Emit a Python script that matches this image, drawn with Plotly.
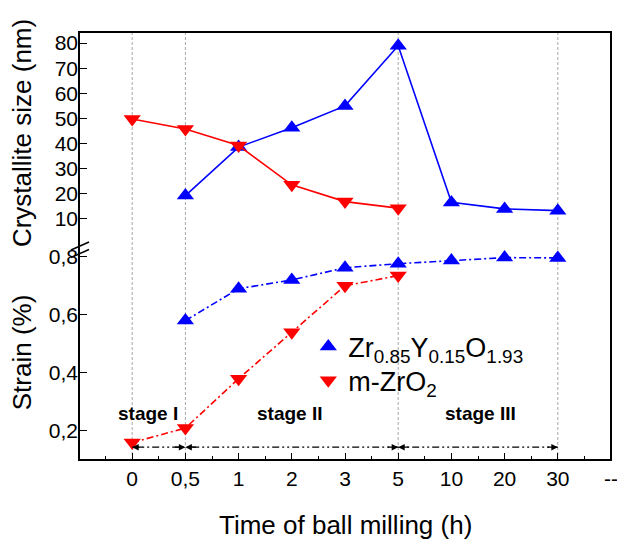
import plotly.graph_objects as go

# ---- data ----
time_labels = ["0", "0,5", "1", "2", "3", "5", "10", "20", "30", "--"]

ysz_times = ["0,5", "1", "2", "3", "5", "10", "20", "30"]
ysz_size = [19.3, 38.6, 46.3, 55.0, 78.9, 16.6, 14.0, 13.3]
ysz_strain = [0.58, 0.69, 0.72, 0.762, 0.776, 0.787, 0.797, 0.796]

mz_times = ["0", "0,5", "1", "2", "3", "5"]
mz_size = [49.8, 45.8, 39.2, 23.6, 16.9, 14.3]
mz_strain = [0.16, 0.21, 0.38, 0.54, 0.70, 0.735]

stage_bounds = ["0", "0,5", "5", "30"]
stage_names = ["stage I", "stage II", "stage III"]
stage_label_pos = [0.3, 2.95, 6.55]   # x (category index units) of stage labels
stage_line_y = 0.144
stage_label_y = 0.26

size_ticks = [10, 20, 30, 40, 50, 60, 70, 80]
strain_ticks = [0.2, 0.4, 0.6, 0.8]
strain_ticktext = ["0,2", "0,4", "0,6", "0,8"]

# ---- helpers ----
def idx(labels):
    return [time_labels.index(t) for t in labels]

BLUE = "#0000FF"
RED = "#FF0000"
FONT = "Arial, Liberation Sans, sans-serif"

fig = go.Figure()

# top panel: crystallite size
fig.add_trace(go.Scatter(x=idx(ysz_times), y=ysz_size, xaxis="x", yaxis="y2",
                         mode="lines+markers", showlegend=False,
                         line=dict(color=BLUE, width=1.6),
                         marker=dict(symbol="triangle-up", size=15, color=BLUE)))
fig.add_trace(go.Scatter(x=idx(mz_times), y=mz_size, xaxis="x", yaxis="y2",
                         mode="lines+markers", showlegend=False,
                         line=dict(color=RED, width=1.6),
                         marker=dict(symbol="triangle-down", size=15, color=RED)))
# bottom panel: strain
fig.add_trace(go.Scatter(x=idx(ysz_times), y=ysz_strain, xaxis="x", yaxis="y",
                         mode="lines+markers", showlegend=False,
                         line=dict(color=BLUE, width=1.6, dash="7px,3px,2px,3px"),
                         marker=dict(symbol="triangle-up", size=15, color=BLUE)))
fig.add_trace(go.Scatter(x=idx(mz_times), y=mz_strain, xaxis="x", yaxis="y",
                         mode="lines+markers", showlegend=False,
                         line=dict(color=RED, width=1.6, dash="7px,3px,2px,3px"),
                         marker=dict(symbol="triangle-down", size=15, color=RED)))

# stage line
sb = idx(stage_bounds)
fig.add_trace(go.Scatter(x=[sb[0], sb[-1]], y=[stage_line_y, stage_line_y],
                         xaxis="x", yaxis="y", mode="lines", showlegend=False,
                         line=dict(color="black", width=1.3,
                                   dash="7px,3px,2px,3px,2px,3px")))

# legend entries (one legend box each, for exact placement)
fig.add_trace(go.Scatter(x=[None], y=[None], mode="markers", xaxis="x", yaxis="y",
                         name="Zr<sub>0.85</sub>Y<sub>0.15</sub>O<sub>1.93</sub>",
                         legend="legend",
                         marker=dict(symbol="triangle-up", size=15, color=BLUE)))
fig.add_trace(go.Scatter(x=[None], y=[None], mode="markers", xaxis="x", yaxis="y",
                         name="m-ZrO<sub>2</sub>", legend="legend2",
                         marker=dict(symbol="triangle-down", size=15, color=RED)))

shapes = []
# vertical stage dashed lines
for b in sb:
    shapes.append(dict(type="line", xref="x", yref="paper", x0=b, x1=b, y0=0, y1=1,
                       line=dict(color="#A8A8A8", width=1, dash="3px,2px"), layer="below"))
# frame
shapes.append(dict(type="rect", xref="paper", yref="paper", x0=0, x1=1, y0=0, y1=1,
                   line=dict(color="black", width=2)))
# axis break slashes (pixel offsets relative to paper left edge)
for dy in (0, 7.5):
    shapes.append(dict(type="line", xref="paper", yref="paper", xsizemode="pixel",
                       ysizemode="pixel", xanchor=0, yanchor=0.5,
                       x0=-8, x1=10, y0=-4 - dy, y1=4 - dy + 0,
                       line=dict(color="black", width=1.5)))

annotations = []
# arrowheads on stage line
for i, b in enumerate(sb):
    if i > 0:
        annotations.append(dict(x=b, y=stage_line_y, xref="x", yref="y", ax=-12, ay=0,
                                text="", showarrow=True, arrowhead=2, arrowsize=1,
                                arrowwidth=1.3, arrowcolor="black", standoff=0))
    if i < len(sb) - 1:
        annotations.append(dict(x=b, y=stage_line_y, xref="x", yref="y", ax=12, ay=0,
                                text="", showarrow=True, arrowhead=2, arrowsize=1,
                                arrowwidth=1.3, arrowcolor="black", standoff=0))
for name, xp in zip(stage_names, stage_label_pos):
    annotations.append(dict(x=xp, y=stage_label_y, xref="x", yref="y", text="<b>%s</b>" % name,
                            showarrow=False, font=dict(family=FONT, size=19, color="black")))
# axis titles
annotations.append(dict(x=-0.107, y=0.764, xref="paper", yref="paper", text="Crystallite size (nm)",
                        xanchor="center", yanchor="middle",
                        textangle=-90, showarrow=False, font=dict(family=FONT, size=26, color="black")))
annotations.append(dict(x=-0.107, y=0.252, xref="paper", yref="paper", text="Strain (%)",
                        xanchor="center", yanchor="middle",
                        textangle=-90, showarrow=False, font=dict(family=FONT, size=26, color="black")))
annotations.append(dict(x=0.501, y=-0.152, xref="paper", yref="paper", text="Time of ball milling (h)",
                        xanchor="center", yanchor="middle",
                        showarrow=False, font=dict(family=FONT, size=26, color="black")))

fig.update_layout(
    width=617, height=543,
    margin=dict(l=79, r=6, t=32, b=83, autoexpand=False),
    paper_bgcolor="white", plot_bgcolor="white",
    font=dict(family=FONT, size=21, color="black"),
    xaxis=dict(range=[-1, 9], tickmode="array", tickvals=list(range(len(time_labels))),
               ticktext=time_labels, ticks="inside", ticklen=7, tickwidth=1.3,
               tickcolor="black", showgrid=False, zeroline=False, showline=False,
               anchor="y", automargin=False, ticklabelstandoff=4,
               ticklabeloverflow="allow",
               minor=dict(tickmode="array",
                          tickvals=[i + 0.5 for i in range(-1, len(time_labels) - 1)],
                          ticks="inside", ticklen=4, tickwidth=1.3, tickcolor="black")),
    yaxis=dict(domain=[0, 0.5], range=[0.1, 0.837], tickmode="array", tickvals=strain_ticks,
               ticktext=strain_ticktext, ticks="inside", ticklen=8, tickwidth=1.3,
               tickcolor="black", showgrid=False, zeroline=False, showline=False,
               automargin=False),
    yaxis2=dict(domain=[0.5, 1], range=[-0.76, 84.4], tickmode="array", tickvals=size_ticks,
                ticks="inside", ticklen=8, tickwidth=1.3, tickcolor="black",
                showgrid=False, zeroline=False, showline=False, anchor="x",
                automargin=False),
    legend=dict(x=0.431, y=0.264, xanchor="left", yanchor="middle",
                bgcolor="rgba(0,0,0,0)", font=dict(family=FONT, size=27)),
    legend2=dict(x=0.431, y=0.185, xanchor="left", yanchor="middle",
                 bgcolor="rgba(0,0,0,0)", font=dict(family=FONT, size=27)),
    shapes=shapes, annotations=annotations,
)

fig.write_html("out.html", config={"displayModeBar": False},
               post_script="document.body.style.margin='0';document.body.style.overflow='hidden';")
